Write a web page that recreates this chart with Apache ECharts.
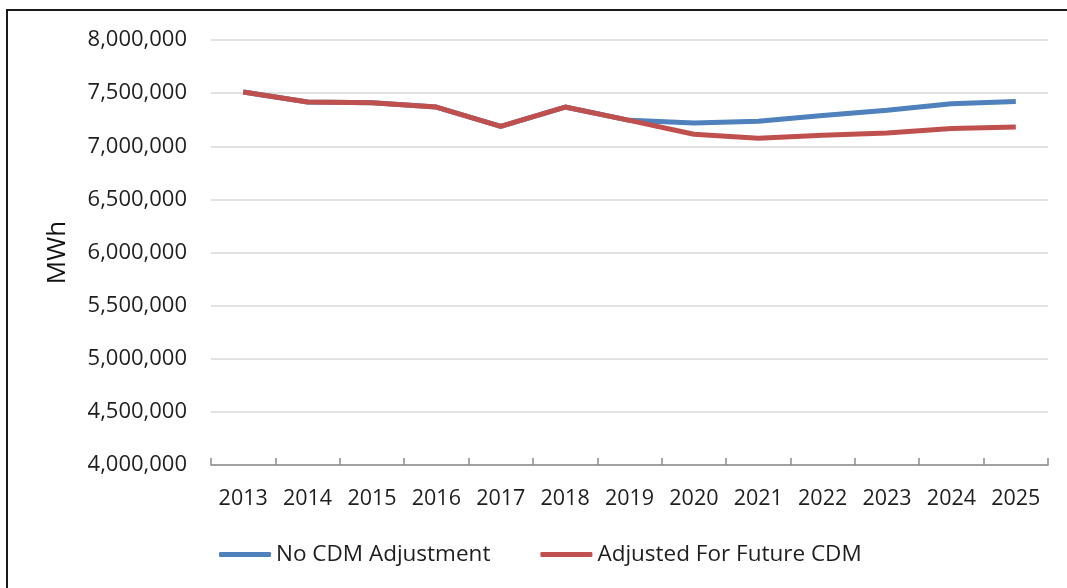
<!DOCTYPE html>
<html>
<head>
<meta charset="utf-8">
<script src="https://cdn.jsdelivr.net/npm/echarts@6/dist/echarts.min.js"></script>
<style>
html,body{margin:0;padding:0;background:#fff;}
#chart{width:1067px;height:588px;}
</style>
</head>
<body>
<div id="chart"></div>
<script>
const years = ['2013','2014','2015','2016','2017','2018','2019','2020','2021','2022','2023','2024','2025'];
const noCdm = [7510000,7416000,7410000,7369000,7188000,7369000,7244000,7219000,7235000,7290000,7338000,7400000,7422000];
const adjusted = [7510000,7416000,7410000,7369000,7188000,7369000,7244000,7113000,7075000,7103000,7125000,7166000,7181000];
const seriesNames = ['No CDM Adjustment','Adjusted For Future CDM'];
const yMin = 4000000, yMax = 8000000, yStep = 500000;

const chart = echarts.init(document.getElementById('chart'));
const font = '"Open Sans", "Noto Sans", sans-serif';
chart.setOption({
  animation: false,
  backgroundColor: '#fff',
  textStyle: { fontFamily: font },
  graphic: [{
    type: 'rect', silent: true,
    shape: { x: 7, y: 10, width: 1200, height: 700 },
    style: { fill: 'none', stroke: '#1a1a1a', lineWidth: 2 }
  }],
  grid: { left: 211, right: 19, top: 40, bottom: 123, containLabel: false },
  legend: {
    left: 214, top: 538,
    itemWidth: 52, itemHeight: 5, itemGap: 50,
    icon: 'roundRect',
    textStyle: { fontSize: 22.5, color: '#1e1e1e', fontFamily: font },
    data: seriesNames
  },
  xAxis: {
    type: 'category', data: years, boundaryGap: true,
    axisLine: { lineStyle: { color: '#8c8c8c', width: 1.5 } },
    axisTick: { show: true, inside: true, interval: 0, length: 7, lineStyle: { color: '#8c8c8c', width: 1.5 } },
    axisLabel: { fontSize: 21.5, color: '#1e1e1e', margin: 23, interval: 0, hideOverlap: false, fontFamily: font },
    splitLine: { show: false }
  },
  yAxis: {
    type: 'value', min: yMin, max: yMax, interval: yStep,
    name: 'MWh', nameLocation: 'middle', nameGap: 140,
    nameTextStyle: { fontSize: 26, color: '#111', fontFamily: font },
    axisLine: { show: false }, axisTick: { show: false },
    axisLabel: {
      fontSize: 22, color: '#1e1e1e', margin: 24, fontFamily: font,
      formatter: v => v.toLocaleString('en-US')
    },
    splitLine: { lineStyle: { color: '#d9d9d9', width: 1.5 } }
  },
  series: [
    { name: seriesNames[0], type: 'line', data: noCdm, showSymbol: false, symbol: 'none',
      lineStyle: { color: '#4F81BD', width: 5 }, itemStyle: { color: '#4F81BD' } },
    { name: seriesNames[1], type: 'line', data: adjusted, showSymbol: false, symbol: 'none',
      lineStyle: { color: '#C0504D', width: 5 }, itemStyle: { color: '#C0504D' } }
  ]
});
</script>
</body>
</html>
